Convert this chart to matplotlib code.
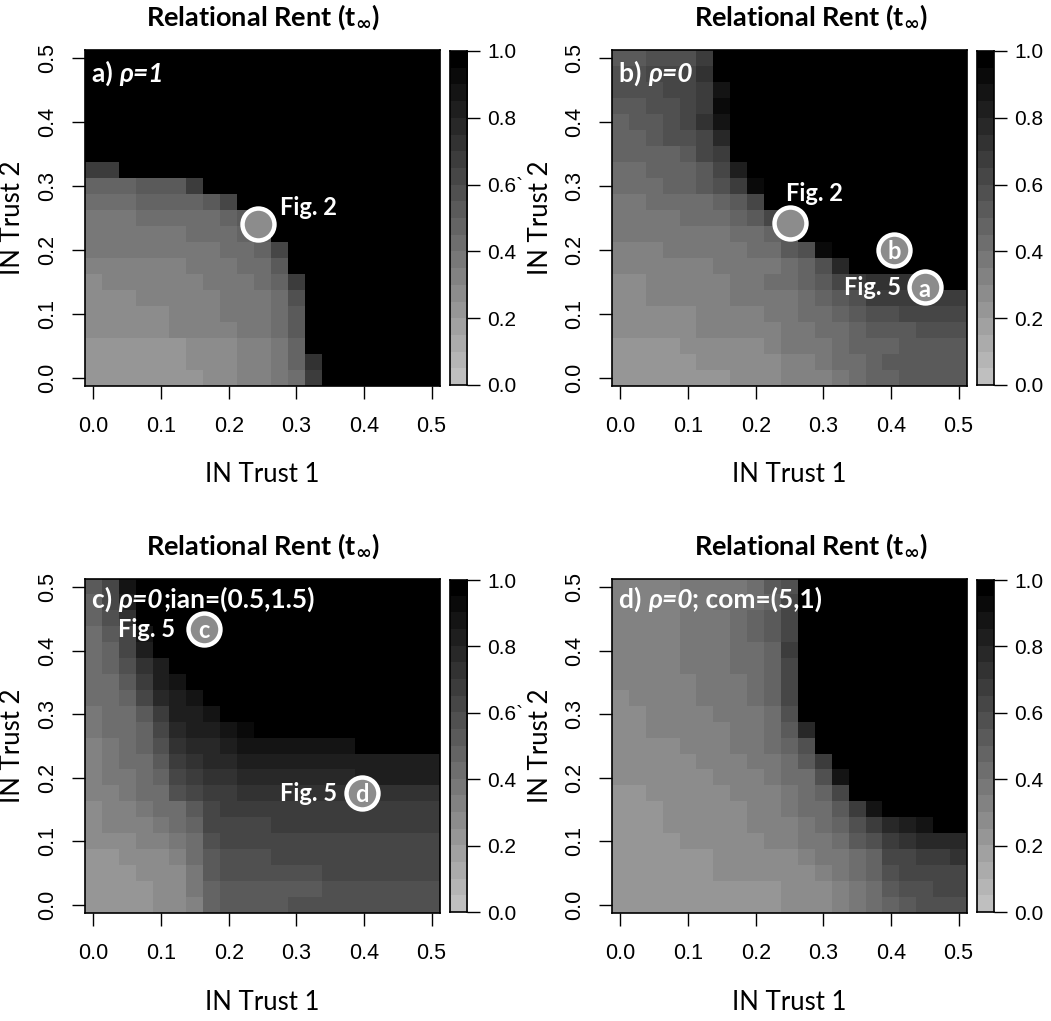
import numpy as np
import matplotlib.pyplot as plt
from matplotlib.colors import ListedColormap

plt.rcParams['font.family'] = ['Liberation Sans', 'DejaVu Sans']
TXT = ['Lato', 'Open Sans', 'DejaVu Sans']

# %% Data
# IN Trust 1 (x) and IN Trust 2 (y) grid, 0 to 0.5 in steps of 0.025
trust = np.linspace(0, 0.5, 21)
n_levels = 20
tick_vals = [0.0, 0.1, 0.2, 0.3, 0.4, 0.5]
tick_labels = ['0.0', '0.1', '0.2', '0.3', '0.4', '0.5']
cb_vals = [0.0, 0.2, 0.4, 0.6, 0.8, 1.0]

# one char per cell = colour band (base 36: 0..j), rows from IN Trust 2 = 0.5 down to 0.0
rent_a = [
    "jjjjjjjjjjjjjjjjjjjjj",
    "jjjjjjjjjjjjjjjjjjjjj",
    "jjjjjjjjjjjjjjjjjjjjj",
    "jjjjjjjjjjjjjjjjjjjjj",
    "jjjjjjjjjjjjjjjjjjjjj",
    "jjjjjjjjjjjjjjjjjjjjj",
    "jjjjjjjjjjjjjjjjjjjjj",
    "ddjjjjjjjjjjjjjjjjjjj",
    "999aaadjjjjjjjjjjjjjj",
    "8889999acjjjjjjjjjjjj",
    "777888889ajjjjjjjjjjj",
    "7777778889ajjjjjjjjjj",
    "77777777889cjjjjjjjjj",
    "66666677788ajjjjjjjjj",
    "566666677789djjjjjjjj",
    "555666667778bjjjjjjjj",
    "555556667778ajjjjjjjj",
    "555556666778ajjjjjjjj",
    "4444445556679jjjjjjjj",
    "4444445556679ejjjjjjj",
    "4444444556678djjjjjjj",
]
rent_b = [
    "aabbbdjjjjjjjjjjjjjjj",
    "bbcccejjjjjjjjjjjjjjj",
    "bbbccdhjjjjjjjjjjjjjj",
    "aabbcdijjjjjjjjjjjjjj",
    "9aabcehjjjjjjjjjjjjjj",
    "99abbcfjjjjjjjjjjjjjj",
    "9999acdjjjjjjjjjjjjjj",
    "88999acgjjjjjjjjjjjjj",
    "88899abdijjjjjjjjjjjj",
    "7788889acjjjjjjjjjjjj",
    "77778889acjjjjjjjjjjj",
    "7777777889ajjjjjjjjjj",
    "6667777788abijjjjjjjj",
    "666666777789bfjjjjjjj",
    "556666677889acdeeejjj",
    "5566666777789abdddddd",
    "55555666677889abbcccc",
    "555556666677889aaabbb",
    "44445555567778999aaaa",
    "4444455555667889aaaaa",
    "44444445556667899aaaa",
]
rent_c = [
    "achjjjjjjjjjjjjjjjjjj",
    "9cgjjjjjjjjjjjjjjjjjj",
    "9bejjjjjjjjjjjjjjjjjj",
    "8achjjjjjjjjjjjjjjjjj",
    "89cgjjjjjjjjjjjjjjjjj",
    "89begjjjjjjjjjjjjjjjj",
    "88adghjjjjjjjjjjjjjjj",
    "889cfghjjjjjjjjjjjjjj",
    "788adgghjjjjjjjjjjjjj",
    "7889cfgghijjjjjjjjjjj",
    "6789beffghhhhhhhjjjjj",
    "6788adeffgggggggggggg",
    "67789cdeefffffffggggg",
    "66788bcddeeeeeeeeeeee",
    "566788acddddddddddddd",
    "5666789ccccdddddddddd",
    "5556678bccccccccccccc",
    "4455568abbbcccccccccc",
    "4445557abbbbbbccccccc",
    "44445579aaaaaabbbbbbb",
    "44445569aaaabbbbbbbbb",
]
rent_d = [
    "666677778abjjjjjjjjjj",
    "6666778889cjjjjjjjjjj",
    "666677789acjjjjjjjjjj",
    "666677789acjjjjjjjjjj",
    "6666777889djjjjjjjjjj",
    "6666777889cjjjjjjjjjj",
    "6666677789cjjjjjjjjjj",
    "5666677789cjjjjjjjjjj",
    "5566667778bjjjjjjjjjj",
    "5566666778afjjjjjjjjj",
    "55556667789bjjjjjjjjj",
    "55555666778adjjjjjjjj",
    "555555666788bhjjjjjjj",
    "4455555666789cjjjjjjj",
    "4445555566788adhjjjjj",
    "44455555666789bdfghjj",
    "44445555566778abdefff",
    "4444445555567789ccdde",
    "4444445555556789bcccc",
    "4444444444555678abbcc",
    "44444444445556789abbb",
]

# annotation points (IN Trust 1, IN Trust 2)
fig2_a = (0.244, 0.240)
fig2_b = (0.250, 0.242)
pt_b_b = (0.405, 0.200)
pt_b_a = (0.450, 0.142)
pt_c_c = (0.163, 0.434)
pt_c_d = (0.397, 0.176)

W, H = 1051, 1021


def box(l, t, r, b):
    return [l / W, 1 - b / H, (r - l) / W, (b - t) / H]


def decode(rows):
    assert all(len(r) == 21 for r in rows), [len(r) for r in rows]
    lv = np.array([[int(c, 36) for c in r] for r in rows[::-1]])
    return (lv + 0.5) / n_levels


def rich(ax, x, y, parts, size):
    t = ax.text(x, y, parts[0][0], transform=ax.transAxes, va='bottom',
                ha='left', color='white', family=TXT, size=size,
                weight='bold', style=parts[0][1])
    for s, st in parts[1:]:
        t = ax.annotate(s, xy=(1, 0), xycoords=t, va='bottom', ha='left',
                        color='white', family=TXT, size=size,
                        weight='bold', style=st)


def dot(ax, p, letter=None):
    ax.plot(p[0], p[1], 'o', ms=23, mfc='#8c8c8c', mec='white', mew=3.2,
            clip_on=False, zorder=5)
    if letter:
        ax.text(p[0], p[1] - 0.003, letter, ha='center', va='center',
                color='white', family=TXT, weight='bold', size=17, zorder=6)


def note(ax, x, y, s, ha='left'):
    ax.text(x, y, s, ha=ha, va='baseline', color='white', family=TXT,
            weight='bold', size=17, zorder=6)


fig = plt.figure(figsize=(W / 100, H / 100), dpi=100)
greys = ListedColormap([str(g) for g in np.linspace(0.75, 0, n_levels)])
half = (trust[1] - trust[0]) / 2
ext = (trust[0] - half, trust[-1] + half, trust[0] - half, trust[-1] + half)

panels = [
    (rent_a, 85, 50, 386, [("a) ", 'normal'), ("\u03c1=1", 'italic')], 0.893, '0.6`'),
    (rent_b, 612, 50, 386, [("b) ", 'normal'), ("\u03c1=0", 'italic')], 0.893, '0.6'),
    (rent_c, 85, 579, 913, [("c) ", 'normal'), ("\u03c1=0", 'italic'),
                            (";ian=(0.5,1.5)", 'normal')], 0.900, '0.6`'),
    (rent_d, 612, 579, 913, [("d) ", 'normal'), ("\u03c1=0", 'italic'),
                             ("; com=(5,1)", 'normal')], 0.900, '0.6'),
]

axes = []
for rows, l, t, b, lab, ly, six in panels:
    ax = fig.add_axes(box(l, t, l + 355, b))
    ax.imshow(decode(rows), origin='lower', cmap=greys, vmin=0, vmax=1,
              extent=ext, aspect='auto', interpolation='nearest')
    ax.set_xticks(tick_vals)
    ax.set_xticklabels(tick_labels)
    ax.set_yticks(tick_vals)
    ax.set_yticklabels(tick_labels, rotation=90, va='center')
    ax.tick_params(length=9.5, width=1, pad=12, labelsize=15.5)
    ax.tick_params(axis='y', pad=10)
    for s in ax.spines.values():
        s.set_linewidth(1.2)
    rich(ax, 0.02, ly, lab, 19)
    axes.append(ax)

    # colour bar
    cax = fig.add_axes(box(l + 365, t + 1, l + 382, b - 1))
    cax.imshow(((np.arange(n_levels) + 0.5) / n_levels)[:, None], origin='lower',
               cmap=greys, vmin=0, vmax=1, extent=(0, 1, 0, 1), aspect='auto',
               interpolation='nearest')
    cax.set_xticks([])
    cax.yaxis.tick_right()
    cax.set_yticks(cb_vals)
    cax.set_yticklabels(['0.0', '0.2', '0.4', six, '0.8', '1.0'])
    cax.tick_params(length=9.5, width=1, pad=5, labelsize=15)
    for s in cax.spines.values():
        s.set_linewidth(1.2)

    # titles and axis labels
    cx = l + 178 if l < 500 else l + 199
    fig.text(cx / W, 1 - (t - 33) / H, "Relational Rent (t$_{\\mathbf{\\infty}}$)",
             ha='center', va='center', family=TXT, weight='bold', size=19.5)
    fig.text((l + 177) / W, 1 - (b + 89) / H, "IN Trust 1", ha='center',
             va='center', family=TXT, size=18.5)
    fig.text((l - 72) / W, 1 - ((t + b) / 2) / H, "IN Trust 2", ha='center',
             va='center', rotation=90, family=TXT, size=18.5)

ax_a, ax_b, ax_c, ax_d = axes

dot(ax_a, fig2_a)
note(ax_a, 0.276, 0.255, "Fig. 2")

dot(ax_b, fig2_b)
note(ax_b, 0.245, 0.276, "Fig. 2")
dot(ax_b, pt_b_b, 'b')
dot(ax_b, pt_b_a, 'a')
note(ax_b, 0.415, 0.129, "Fig. 5", ha='right')

dot(ax_c, pt_c_c, 'c')
note(ax_c, 0.121, 0.422, "Fig. 5", ha='right')
dot(ax_c, pt_c_d, 'd')
note(ax_c, 0.360, 0.164, "Fig. 5", ha='right')

fig.savefig('out.png', dpi=100)
